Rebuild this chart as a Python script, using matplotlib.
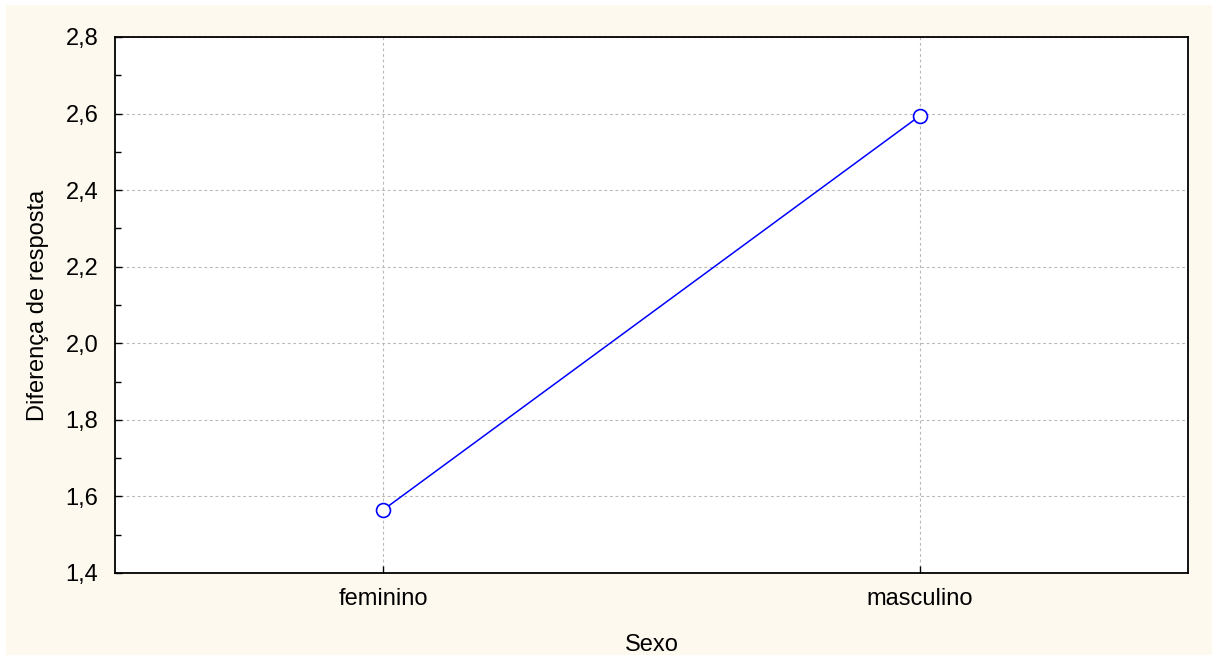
import matplotlib.pyplot as plt
from matplotlib.patches import Rectangle
from matplotlib.ticker import MultipleLocator, FuncFormatter

# Datos
categorias = ["feminino", "masculino"]
valores = [1.565, 2.594]

CREMA = "#FDF9EE"
AZUL = "#0000FF"

plt.rcParams['font.family'] = ['Liberation Sans', 'DejaVu Sans']

fig = plt.figure(figsize=(12.18, 6.62), dpi=100, facecolor='white')
# Fondo crema con un pequeño borde blanco
fig.patches.append(Rectangle((6 / 1218, 7 / 662), 1206 / 1218, 650 / 662,
                             transform=fig.transFigure, facecolor=CREMA,
                             edgecolor='none', zorder=-1))

ax = fig.add_axes([115 / 1218, 1 - 573 / 662, 1073 / 1218, 536 / 662])
ax.set_facecolor('white')

x = list(range(len(categorias)))
ax.plot(x, valores, color=AZUL, linewidth=1.1, marker='o', markersize=10,
        markerfacecolor='white', markeredgecolor=AZUL, markeredgewidth=1.2,
        zorder=3)

ax.set_xlim(-0.5, 1.5)
ax.set_ylim(1.4, 2.8)
ax.set_xticks(x)
ax.set_xticklabels(categorias)
ax.yaxis.set_major_locator(MultipleLocator(0.2))
ax.yaxis.set_minor_locator(MultipleLocator(0.1))
ax.yaxis.set_major_formatter(FuncFormatter(lambda v, p: f"{v:.1f}".replace('.', ',')))

ax.grid(True, which='major', color='#b8b8b8', linestyle=(0, (2.5, 2.5)), linewidth=0.8)
ax.tick_params(axis='both', which='major', direction='in', length=5, width=1,
               labelsize=17, pad=11, colors='black')
ax.tick_params(axis='y', which='minor', direction='in', length=4, width=1)
ax.tick_params(axis='y', which='major', pad=12)

for s in ax.spines.values():
    s.set_linewidth(1.3)
    s.set_color('black')

ax.set_xlabel("Sexo", fontsize=17, labelpad=17)
ax.set_ylabel("Diferença de resposta", fontsize=17, labelpad=12)

plt.savefig("out.png", dpi=100, facecolor='white')
plt.close()
